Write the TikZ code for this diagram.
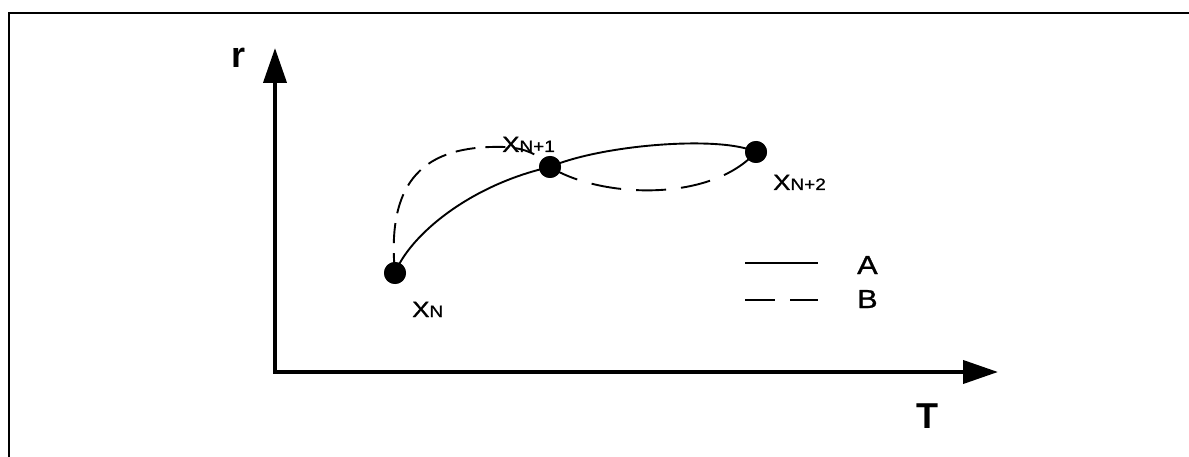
\documentclass[tikz,border=0pt]{standalone}
\usepackage{fontspec}
\setmainfont{Liberation Sans}
\newfontfamily\lblfont{Liberation Sans}[FakeBold=1]
\usetikzlibrary{arrows.meta}
% label text (slightly widened) at a given size, index text, axis names
\newcommand{\lbltext}[2]{\scalebox{1.18}[1]{\lblfont\fontsize{#1}{#1}\selectfont #2}}
\newcommand{\idx}[1]{\scalebox{1.15}[1]{\lblfont\fontsize{16.5}{18}\selectfont #1}}
\newcommand{\axtext}[1]{{\fontsize{36}{40}\selectfont\bfseries #1}}

\begin{document}
\begin{tikzpicture}[x=1pt,y=-1pt,
  dot/.style={circle,fill=black,inner sep=0pt,minimum size=22pt},
  lbl/.style={anchor=base west,inner sep=0pt},
  curveA/.style={line width=1.9pt},
  curveB/.style={line width=1.9pt,dash pattern=on 30pt off 15pt},
  curveBshort/.style={line width=1.9pt,dash pattern=on 20pt off 10pt},
  axis/.style={line width=4pt,line join=miter},
  frame/.style={line width=2pt,line join=miter}]

\useasboundingbox (0,0) rectangle (1189,457);
\clip (0,0) rectangle (1189,457);

% outer frame (open to the right and bottom)
\coordinate (fbl) at (9,470);
\coordinate (ftl) at (9,13);
\coordinate (ftr) at (1200,13);
\draw[frame] (fbl) -- (ftl) -- (ftr);

% axes
\coordinate (rtip) at (275,48);
\coordinate (origin) at (275,372);
\coordinate (ttip) at (998,372);
\draw[axis,{Triangle[length=35pt,width=23pt]}-{Triangle[length=35pt,width=23pt]}] (rtip) -- (origin) -- (ttip);
\node[lbl] (rlab) at (231,68) {\axtext{r}};
\node[lbl] (tlab) at (916,428) {\axtext{T}};

% state points
\node[dot] (xn)  at (395,273) {};
\node[dot] (xn1) at (550,167) {};
\node[dot] (xn2) at (756,152) {};

% curve A (solid)
\draw[curveA] (xn.center) .. controls (410,235) and (470,185) .. (xn1.center);
\draw[curveA] (xn1.center) .. controls (600,145) and (720,135) .. (xn2.center);

% curve B (dashed)
\draw[curveBshort] (xn.center) .. controls (385,170) and (435,145) .. (505,147)
  .. controls (525,148) and (540,155) .. (xn1.center);
\draw[curveB] (xn1.center) .. controls (600,198) and (710,203) .. (xn2.center);

% redraw points on top of the curves
\fill (xn) circle (11);
\fill (xn1) circle (11);
\fill (xn2) circle (11);

% point labels
\node[lbl] (lxn)  at (412,317) {\lbltext{22}{X}\idx{N}};
\node[lbl] (lxn1) at (502,152) {\lbltext{22}{X}\idx{N+1}};
\node[lbl] (lxn2) at (773,190) {\lbltext{22}{X}\idx{N+2}};

% legend
\coordinate (la1) at (745,263);
\coordinate (la2) at (818,263);
\coordinate (lb1) at (745,300);
\coordinate (lb2) at (818,300);
\draw[curveA] (la1) -- (la2);
\draw[curveA,dash pattern=on 30pt off 15pt] (lb1) -- (lb2);
\node[lbl] (legA) at (857,274) {\lbltext{26}{A}};
\node[lbl] (legB) at (857,308) {\lbltext{26}{B}};

\end{tikzpicture}
\end{document}
